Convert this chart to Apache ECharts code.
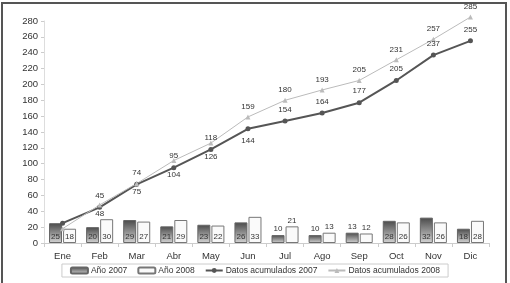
<!DOCTYPE html>
<html>
<head>
<meta charset="utf-8">
<script src="https://cdn.jsdelivr.net/npm/echarts@6/dist/echarts.min.js"></script>
<style>
html,body{margin:0;padding:0;background:#fff;}
#frame{position:absolute;left:1px;top:2px;width:502px;height:300px;border:2px solid #555;border-bottom:none;}
#main{position:absolute;left:0;top:0;width:510px;height:283px;}
</style>
</head>
<body>
<div id="frame"></div>
<div id="main"></div>
<script>
var meses = ['Ene','Feb','Mar','Abr','May','Jun','Jul','Ago','Sep','Oct','Nov','Dic'];
var anio2007 = [25,20,29,21,23,26,10,10,13,28,32,18];
var anio2008 = [18,30,27,29,22,33,21,13,12,26,26,28];
var acum2007 = [25,45,74,95,118,144,154,164,177,205,237,255];
var acum2008 = [18,48,75,104,126,159,180,193,205,231,257,285];
var yTicks = [0,20,40,60,80,100,120,140,160,180,200,220,240,260,280];

var fuente = 'Liberation Sans';

// donde va cada etiqueta (igual que en el original)
var pos07 = ['none','top','top','top','top','bottom','top','top','top','top','top','top'];
var pos08 = ['none','bottom','bottom','bottom','bottom','top','top','top','top','top','top','top'];
var dist08 = [0,2,2,8,7,4,4,4,4,4,4,4];
function barPos(i){
	return (i>=6 && i<=8) ? 'top' : 'insideBottom';
}
function lineData(vals,pos,dist){
	return vals.map(function(v,i){
		if(pos[i]=='none') return {value:v,label:{show:false}};
		var lb = {position:pos[i]};
		if(dist) lb.distance = dist[i];
		return {value:v,label:lb};
	});
}
function barData(vals){
	return vals.map(function(v,i){
		return {value:v,label:{position:barPos(i)}};
	});
}

var myChart = echarts.init(document.getElementById('main'));
var option = {
	animation:false,
	textStyle:{fontFamily:fuente},
	grid:{left:44,right:21,top:21,bottom:40},
	legend:{
		top:264,
		left:'center',
		width:500,
		itemGap:10,
		itemWidth:17,
		itemHeight:6,
		padding:[2,8,2,8],
		borderColor:'#ccc',
		borderWidth:1,
		textStyle:{fontSize:8.5,color:'#333',fontFamily:fuente,padding:[0,0,0,-2]},
		data:['Año 2007','Año 2008','Datos acumulados 2007','Datos acumulados 2008']
	},
	xAxis:{
		type:'category',
		data:meses,
		axisLine:{lineStyle:{color:'#ccc'}},
		axisTick:{show:true,length:4,lineStyle:{color:'#ccc'}},
		axisLabel:{fontSize:9.5,color:'#333',margin:8}
	},
	yAxis:{
		type:'value',
		min:yTicks[0],
		max:yTicks[yTicks.length-1],
		interval:20,
		axisLine:{show:true,lineStyle:{color:'#ddd'}},
		axisTick:{show:true,length:3,lineStyle:{color:'#ccc'}},
		splitLine:{show:false},
		axisLabel:{fontSize:9.5,color:'#333',margin:6}
	},
	series:[
		{
			name:'Año 2007',
			type:'bar',
			barWidth:13,
			barGap:'8%',
			itemStyle:{
				color:new echarts.graphic.LinearGradient(0,0,0,1,[
					{offset:0,color:'#4a4a4a'},
					{offset:1,color:'#d4d4d4'}
				]),
				borderColor:'#666',
				borderWidth:1
			},
			label:{show:true,fontSize:8,color:'#333',distance:2},
			data:barData(anio2007)
		},
		{
			name:'Año 2008',
			type:'bar',
			barWidth:13,
			itemStyle:{color:'#fafafa',borderColor:'#777',borderWidth:1},
			label:{show:true,fontSize:8,color:'#333',distance:2},
			data:barData(anio2008)
		},
		{
			name:'Datos acumulados 2007',
			type:'line',
			clip:false,
			symbol:'circle',
			symbolSize:5,
			itemStyle:{color:'#555'},
			lineStyle:{color:'#555',width:2},
			label:{show:true,fontSize:8,color:'#333',distance:5},
			data:lineData(acum2007,pos07)
		},
		{
			name:'Datos acumulados 2008',
			type:'line',
			clip:false,
			symbol:'triangle',
			symbolSize:5,
			itemStyle:{color:'#bbb'},
			lineStyle:{color:'#bbb',width:1},
			label:{show:true,fontSize:8,color:'#333'},
			data:lineData(acum2008,pos08,dist08)
		}
	]
};
myChart.setOption(option);
</script>
</body>
</html>
